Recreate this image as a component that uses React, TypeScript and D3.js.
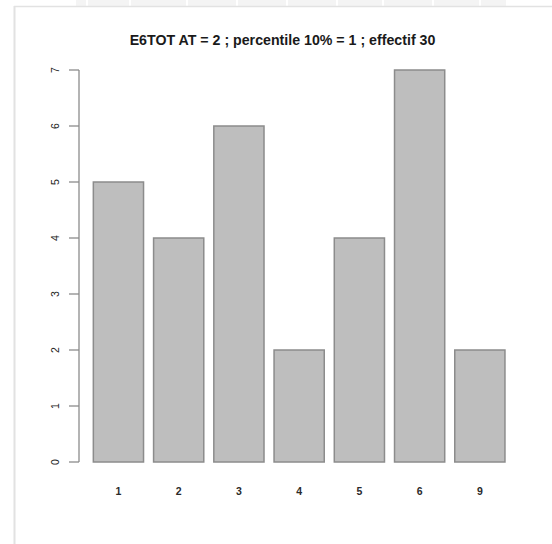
import React from "react";
import * as d3 from "d3";

// Bar chart data
const categories: string[] = ["1", "2", "3", "4", "5", "6", "9"];
const counts: number[] = [5, 4, 6, 2, 4, 7, 2];
const yTicks: number[] = [0, 1, 2, 3, 4, 5, 6, 7];
const title = "E6TOT AT = 2 ; percentile 10% = 1 ; effectif 30";

const W = 552;
const H = 544;

export default function App() {
  const x = d3
    .scaleBand<string>()
    .domain(categories)
    .range([83.3, 515])
    .paddingInner(1 / 6)
    .paddingOuter(1 / 6);

  const y = d3.scaleLinear().domain([0, 7]).range([462, 70]);

  const axisX = 79;
  const tickLen = 10;
  const font = "'Liberation Sans', Arial, Helvetica, sans-serif";

  // faint tiles along the top edge of the page
  const tileEdges = [75, 87, 130, 187, 237, 287, 337, 383, 433, 480, 507];

  return (
    <svg
      width={W}
      height={H}
      style={{ position: "absolute", left: 0, top: 0, background: "#fff" }}
    >
      <rect x={0} y={0} width={W} height={H} fill="#ffffff" />
      {/* top strip */}
      {tileEdges.slice(0, -1).map((e, i) => (
        <rect
          key={i}
          x={e + 1}
          y={0}
          width={tileEdges[i + 1] - e - 2}
          height={6}
          fill="#f4f4f4"
        />
      ))}
      {/* page edges */}
      <line x1={14} y1={6.5} x2={W} y2={6.5} stroke="#e2e2e2" strokeWidth={1.5} />
      <line x1={14.5} y1={6} x2={14.5} y2={H} stroke="#e2e2e2" strokeWidth={2} />

      {/* title */}
      <text
        x={282.5}
        y={45}
        textAnchor="middle"
        fontFamily={font}
        fontWeight="bold"
        fontSize={14.2}
        fill="#1a1a1a"
      >
        {title}
      </text>

      {/* bars */}
      {categories.map((c, i) => (
        <rect
          key={c}
          x={x(c)!}
          y={y(counts[i])}
          width={x.bandwidth()}
          height={y(0) - y(counts[i])}
          fill="#bebebe"
          stroke="#8c8c8c"
          strokeWidth={1.5}
        />
      ))}

      {/* y axis */}
      <line
        x1={axisX}
        x2={axisX}
        y1={y(7)}
        y2={y(0)}
        stroke="#8c8c8c"
        strokeWidth={1.3}
      />
      {yTicks.map((t) => (
        <g key={t}>
          <line
            x1={axisX - tickLen}
            x2={axisX}
            y1={y(t)}
            y2={y(t)}
            stroke="#8c8c8c"
            strokeWidth={1.3}
          />
          <text
            transform={`translate(${58.5},${y(t)}) rotate(-90)`}
            textAnchor="middle"
            fontFamily={font}
            fontSize={10.5}
            fill="#222"
          >
            {t}
          </text>
        </g>
      ))}

      {/* x labels */}
      {categories.map((c) => (
        <text
          key={c}
          x={x(c)! + x.bandwidth() / 2}
          y={494.5}
          textAnchor="middle"
          fontFamily={font}
          fontSize={10.5}
          fontWeight="bold"
          fill="#2a2a2a"
        >
          {c}
        </text>
      ))}
    </svg>
  );
}
